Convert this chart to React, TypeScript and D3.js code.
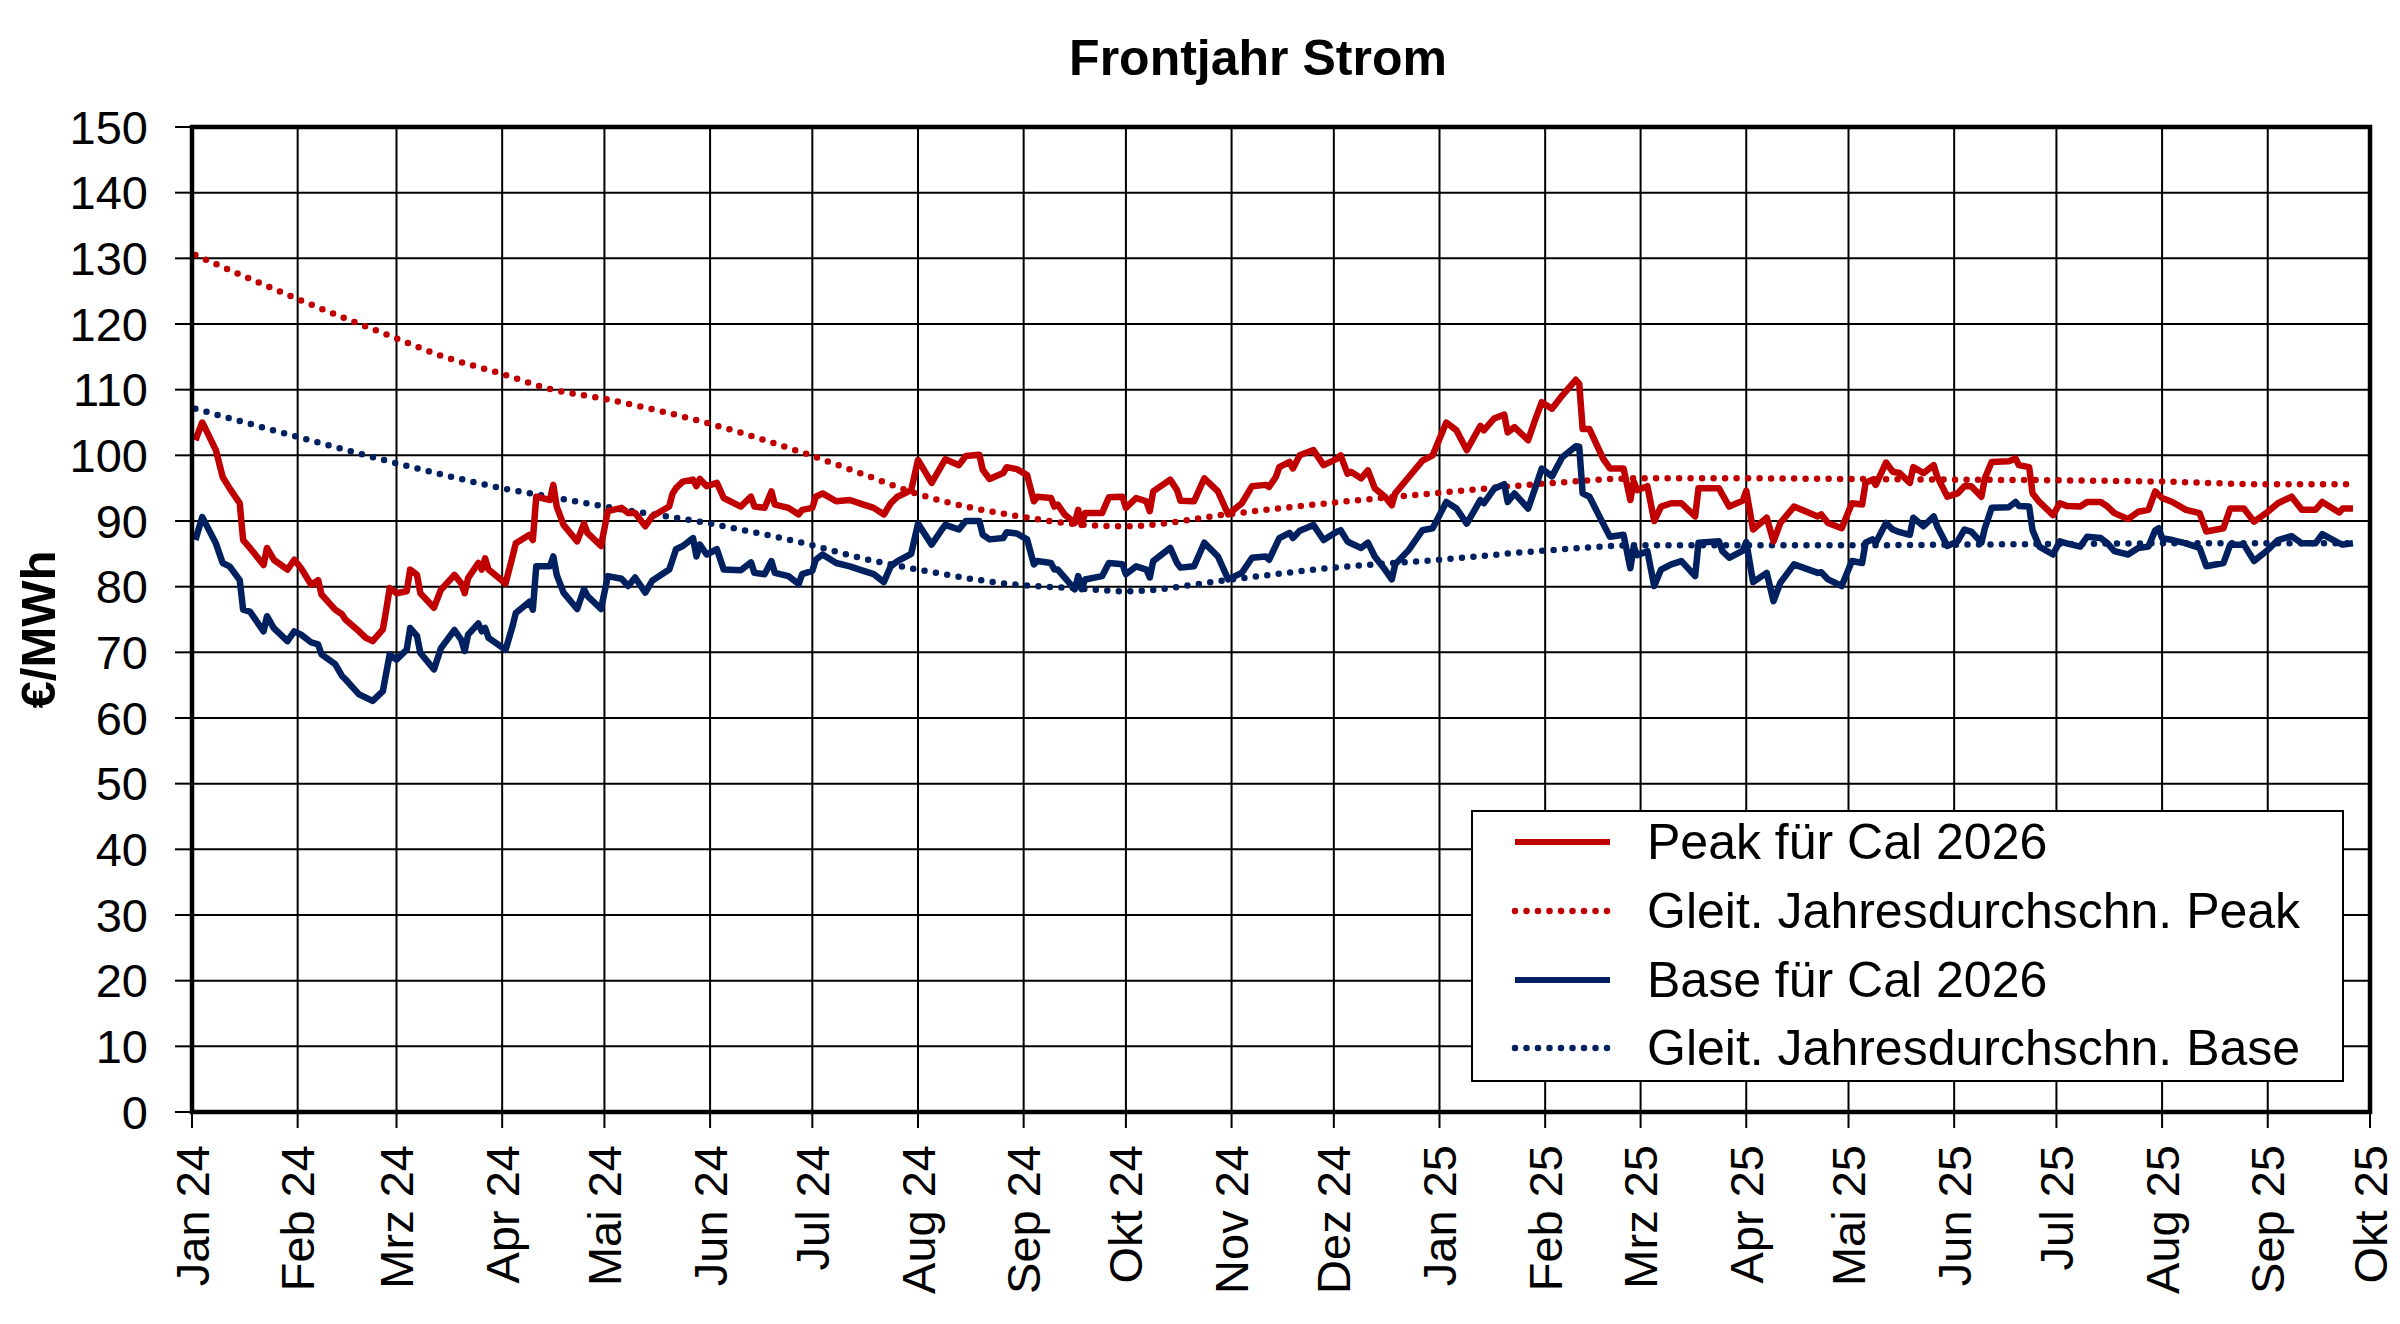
import * as d3 from "d3";

// Frontjahr Strom: Cal 2026 Peak / Base, daily settlement
const dates = [
  "2024-01-02", "2024-01-04", "2024-01-05", "2024-01-08", "2024-01-10", "2024-01-12", "2024-01-15", "2024-01-16",
  "2024-01-18", "2024-01-22", "2024-01-23", "2024-01-25", "2024-01-29", "2024-01-31", "2024-02-02", "2024-02-05",
  "2024-02-07", "2024-02-08", "2024-02-12", "2024-02-14", "2024-02-15", "2024-02-19", "2024-02-21", "2024-02-23",
  "2024-02-26", "2024-02-27", "2024-02-28", "2024-03-01", "2024-03-04", "2024-03-05", "2024-03-07", "2024-03-08",
  "2024-03-12", "2024-03-14", "2024-03-18", "2024-03-20", "2024-03-21", "2024-03-22", "2024-03-25", "2024-03-26",
  "2024-03-27", "2024-03-28", "2024-04-02", "2024-04-04", "2024-04-05", "2024-04-09", "2024-04-10", "2024-04-11",
  "2024-04-15", "2024-04-16", "2024-04-17", "2024-04-19", "2024-04-23", "2024-04-25", "2024-04-26", "2024-04-30",
  "2024-05-02", "2024-05-06", "2024-05-08", "2024-05-10", "2024-05-13", "2024-05-15", "2024-05-20", "2024-05-21",
  "2024-05-22", "2024-05-24", "2024-05-27", "2024-05-28", "2024-05-29", "2024-05-31", "2024-06-03", "2024-06-05",
  "2024-06-10", "2024-06-13", "2024-06-14", "2024-06-17", "2024-06-19", "2024-06-20", "2024-06-24", "2024-06-27",
  "2024-06-28", "2024-07-01", "2024-07-02", "2024-07-04", "2024-07-08", "2024-07-12", "2024-07-16", "2024-07-19",
  "2024-07-22", "2024-07-24", "2024-07-26", "2024-07-30", "2024-08-01", "2024-08-05", "2024-08-08", "2024-08-09",
  "2024-08-13", "2024-08-15", "2024-08-19", "2024-08-20", "2024-08-22", "2024-08-26", "2024-08-27", "2024-08-30",
  "2024-09-02", "2024-09-04", "2024-09-05", "2024-09-09", "2024-09-10", "2024-09-11", "2024-09-13", "2024-09-16",
  "2024-09-17", "2024-09-18", "2024-09-19", "2024-09-24", "2024-09-26", "2024-09-30", "2024-10-01", "2024-10-04",
  "2024-10-07", "2024-10-08", "2024-10-09", "2024-10-14", "2024-10-16", "2024-10-17", "2024-10-21", "2024-10-24",
  "2024-10-28", "2024-10-31", "2024-11-04", "2024-11-07", "2024-11-11", "2024-11-12", "2024-11-14", "2024-11-15",
  "2024-11-18", "2024-11-19", "2024-11-21", "2024-11-25", "2024-11-28", "2024-12-02", "2024-12-03", "2024-12-05",
  "2024-12-06", "2024-12-09", "2024-12-11", "2024-12-13", "2024-12-16", "2024-12-18", "2024-12-19", "2024-12-23",
  "2024-12-27", "2024-12-30", "2025-01-03", "2025-01-06", "2025-01-09", "2025-01-13", "2025-01-14", "2025-01-17",
  "2025-01-20", "2025-01-21", "2025-01-23", "2025-01-27", "2025-01-29", "2025-01-31", "2025-02-03", "2025-02-06",
  "2025-02-10", "2025-02-11", "2025-02-12", "2025-02-14", "2025-02-18", "2025-02-20", "2025-02-24", "2025-02-26",
  "2025-02-27", "2025-02-28", "2025-03-03", "2025-03-05", "2025-03-07", "2025-03-10", "2025-03-13", "2025-03-17",
  "2025-03-18", "2025-03-24", "2025-03-25", "2025-03-27", "2025-03-31", "2025-04-01", "2025-04-03", "2025-04-07",
  "2025-04-09", "2025-04-11", "2025-04-15", "2025-04-22", "2025-04-23", "2025-04-25", "2025-04-29", "2025-05-02",
  "2025-05-05", "2025-05-06", "2025-05-08", "2025-05-09", "2025-05-12", "2025-05-14", "2025-05-16", "2025-05-19",
  "2025-05-20", "2025-05-23", "2025-05-26", "2025-05-27", "2025-05-30", "2025-06-02", "2025-06-04", "2025-06-06",
  "2025-06-09", "2025-06-10", "2025-06-12", "2025-06-17", "2025-06-19", "2025-06-20", "2025-06-23", "2025-06-24",
  "2025-06-26", "2025-06-30", "2025-07-02", "2025-07-04", "2025-07-08", "2025-07-10", "2025-07-14", "2025-07-16",
  "2025-07-18", "2025-07-22", "2025-07-25", "2025-07-28", "2025-07-30", "2025-07-31", "2025-08-01", "2025-08-04",
  "2025-08-08", "2025-08-12", "2025-08-14", "2025-08-19", "2025-08-21", "2025-08-25", "2025-08-28", "2025-09-01",
  "2025-09-04", "2025-09-08", "2025-09-11", "2025-09-15", "2025-09-17", "2025-09-22", "2025-09-23", "2025-09-26",
];

const peakValues = [
  102.3, 105.0, 104.0, 100.8, 96.7, 95.0, 92.7, 87.1, 85.9, 83.3, 85.9, 84.1, 82.6, 84.1, 82.8, 80.3,
  81.0, 78.8, 76.5, 75.8, 75.0, 73.2, 72.2, 71.7, 73.5, 76.5, 79.8, 79.0, 79.3, 82.6, 81.8, 79.0,
  76.8, 79.5, 81.8, 80.5, 79.0, 81.3, 83.6, 82.6, 84.3, 82.6, 80.5, 84.5, 86.6, 87.9, 87.1, 93.7,
  93.2, 95.5, 92.2, 89.4, 86.9, 89.6, 88.2, 86.2, 91.5, 92.0, 91.2, 91.2, 89.2, 90.7, 92.2, 94.2,
  95.0, 96.0, 96.3, 95.3, 96.4, 95.3, 95.8, 93.5, 92.2, 93.7, 92.2, 92.0, 94.5, 92.5, 92.0, 91.0,
  91.7, 92.0, 93.7, 94.2, 93.0, 93.2, 92.5, 92.0, 91.0, 92.7, 93.7, 94.7, 99.3, 95.8, 98.5, 99.4,
  98.5, 99.9, 100.1, 97.8, 96.4, 97.3, 98.2, 97.9, 97.0, 93.0, 93.7, 93.5, 92.2, 92.5, 91.0, 89.7,
  91.7, 89.4, 91.2, 91.2, 93.6, 93.7, 92.0, 93.5, 93.0, 91.5, 94.5, 96.3, 94.7, 93.1, 93.0, 96.5,
  94.5, 91.0, 92.7, 95.3, 95.5, 95.2, 96.7, 98.2, 99.0, 98.0, 100.0, 100.8, 98.5, 99.5, 100.0, 97.2,
  97.5, 96.5, 97.7, 95.0, 93.7, 92.4, 94.2, 96.7, 99.2, 100.0, 105.0, 103.8, 100.8, 104.5, 103.8, 105.6,
  106.2, 103.5, 104.3, 102.3, 105.3, 108.1, 107.1, 109.1, 111.5, 110.9, 104.0, 104.0, 99.5, 98.0, 98.0, 93.2,
  96.0, 94.7, 95.3, 90.0, 92.2, 92.7, 92.7, 90.7, 95.0, 95.0, 94.0, 92.2, 93.1, 94.6, 88.7, 90.5,
  86.9, 89.7, 92.2, 90.7, 91.0, 89.7, 88.9, 92.7, 92.5, 95.8, 96.3, 95.5, 98.9, 97.5, 97.3, 95.8,
  98.2, 97.3, 98.5, 96.8, 93.7, 94.2, 95.3, 95.3, 93.7, 96.5, 99.0, 99.1, 99.5, 98.5, 98.2, 94.2,
  92.9, 90.9, 92.7, 92.3, 92.2, 92.9, 92.9, 92.2, 91.2, 90.3, 91.4, 91.7, 94.5, 94.0, 93.5, 92.9,
  91.7, 91.2, 88.4, 88.9, 91.9, 91.9, 89.9, 91.4, 92.7, 93.7, 91.7, 91.7, 92.9, 91.3, 91.9, 91.9,
];

const baseValues = [
  87.1, 90.6, 89.6, 86.6, 83.6, 83.1, 81.0, 76.5, 76.2, 73.2, 75.5, 73.7, 71.7, 73.2, 72.7, 71.5,
  71.2, 69.7, 68.2, 66.4, 65.9, 63.6, 63.1, 62.6, 64.1, 66.9, 69.7, 68.9, 70.4, 73.7, 72.5, 69.9,
  67.4, 70.6, 73.4, 71.9, 70.2, 72.7, 74.4, 73.2, 73.7, 72.2, 70.4, 73.9, 76.0, 77.7, 76.5, 83.1,
  83.1, 84.6, 81.8, 79.1, 76.6, 79.6, 78.6, 76.6, 81.6, 81.2, 80.1, 81.4, 79.1, 80.9, 82.6, 84.1,
  85.7, 86.2, 87.4, 84.6, 86.4, 84.9, 85.7, 82.6, 82.5, 83.7, 82.1, 81.9, 83.9, 82.1, 81.6, 80.4,
  81.9, 82.4, 84.1, 84.9, 83.6, 83.1, 82.4, 81.9, 80.7, 83.1, 83.9, 85.0, 89.6, 86.4, 88.7, 89.4,
  88.7, 90.0, 90.0, 87.9, 87.2, 87.4, 88.3, 88.1, 87.2, 83.4, 83.9, 83.6, 82.6, 82.6, 81.4, 79.6,
  81.6, 79.6, 81.1, 81.6, 83.6, 83.4, 81.9, 83.1, 82.6, 81.4, 83.9, 85.9, 83.6, 82.9, 83.1, 86.7,
  84.6, 81.1, 82.1, 84.4, 84.6, 84.1, 86.3, 87.4, 88.2, 87.4, 88.5, 89.4, 87.1, 88.4, 88.6, 86.9,
  86.6, 85.9, 86.7, 84.6, 82.6, 81.1, 83.4, 85.6, 88.6, 88.9, 92.9, 91.9, 89.6, 93.2, 92.7, 94.9,
  95.6, 92.9, 94.2, 91.9, 94.9, 98.0, 96.8, 99.7, 101.4, 101.3, 94.2, 93.7, 89.6, 87.6, 87.9, 82.8,
  86.1, 84.8, 85.4, 80.1, 82.6, 83.4, 83.9, 81.6, 86.7, 86.9, 85.4, 84.4, 85.5, 86.8, 80.7, 82.1,
  77.8, 80.6, 83.4, 82.1, 82.2, 81.1, 80.1, 83.9, 83.6, 86.7, 87.2, 86.7, 89.7, 88.7, 88.3, 87.9,
  90.5, 89.2, 90.7, 89.2, 86.2, 86.9, 88.7, 88.4, 86.7, 88.9, 92.0, 92.1, 92.9, 92.3, 92.2, 88.6,
  86.1, 84.9, 86.9, 86.6, 86.1, 87.6, 87.4, 86.6, 85.4, 84.9, 85.9, 86.1, 88.6, 88.9, 87.4, 87.1,
  86.6, 85.9, 83.1, 83.6, 86.4, 86.4, 83.9, 85.6, 87.1, 87.7, 86.6, 86.6, 88.0, 86.6, 86.4, 86.6,
];

// gleitender Jahresdurchschnitt (read at roughly monthly steps)
const avgDates = [
  "2024-01-02", "2024-02-01", "2024-03-01", "2024-03-15", "2024-04-01", "2024-04-15", "2024-05-01",
  "2024-06-01", "2024-07-01", "2024-07-15", "2024-08-01", "2024-09-01", "2024-09-15", "2024-10-01",
  "2024-11-01", "2024-12-01", "2025-01-01", "2025-02-01", "2025-03-01", "2025-04-01", "2025-05-01",
  "2025-06-01", "2025-07-01", "2025-08-01", "2025-09-01", "2025-09-26",
];
const peakAvg = [
  130.5, 123.8, 117.8, 115.0, 112.4, 110.1, 108.6, 104.8, 99.9, 97.3, 94.1, 90.6, 89.6, 89.2,
  91.1, 92.8, 94.3, 95.7, 96.5, 96.5, 96.4, 96.3, 96.2, 96.0, 95.6, 95.6,
];
const baseAvg = [
  107.1, 102.8, 98.8, 97.0, 95.0, 93.7, 92.2, 89.6, 86.3, 84.4, 82.6, 80.2, 79.8, 79.3,
  81.1, 82.9, 84.1, 85.5, 86.3, 86.3, 86.3, 86.4, 86.5, 86.6, 86.6, 86.6,
];

const monthNames = ["Jan", "Feb", "Mrz", "Apr", "Mai", "Jun", "Jul", "Aug", "Sep", "Okt", "Nov", "Dez"];
const yTicks = d3.range(0, 151, 10);

const legendItems = [
  { label: "Peak für Cal 2026", color: "#C00000", dotted: false },
  { label: "Gleit. Jahresdurchschn. Peak", color: "#C00000", dotted: true },
  { label: "Base für Cal 2026", color: "#002060", dotted: false },
  { label: "Gleit. Jahresdurchschn. Base", color: "#002060", dotted: true },
];

const W = 2400;
const H = 1324;
const left = 192;
const right = 2370;
const top = 127;
const bottom = 1112;
const FONT = "'Liberation Sans', Arial, sans-serif";

export default function App() {
  const parse = d3.utcParse("%Y-%m-%d");
  const start = new Date(Date.UTC(2024, 0, 1));
  const end = new Date(Date.UTC(2025, 9, 1));

  const x = d3.scaleUtc().domain([start, end]).range([left, right]);
  const y = d3.scaleLinear().domain([0, 150]).range([bottom, top]);

  const months = d3.utcMonth.range(start, d3.utcDay.offset(end, 1));

  const days = dates.map((d) => parse(d) as Date);
  const avgDays = avgDates.map((d) => parse(d) as Date);

  const line = d3
    .line<number>()
    .x((_, i) => x(days[i]))
    .y((v) => y(v));

  const avgLine = d3
    .line<number>()
    .x((_, i) => x(avgDays[i]))
    .y((v) => y(v))
    .curve(d3.curveMonotoneX);

  const legend = { x: 1472, y: 811, w: 871, h: 270 };
  const rowY = [842, 911, 980, 1048];

  return (
    <div style={{ position: "absolute", left: 0, top: 0 }}>
      <svg width={W} height={H} viewBox={`0 0 ${W} ${H}`} style={{ display: "block", background: "#fff" }}>
        <rect x={0} y={0} width={W} height={H} fill="#fff" />

        <text x={1258} y={58} textAnchor="middle" dominantBaseline="central" fontFamily={FONT} fontWeight="bold" fontSize={50}>
          Frontjahr Strom
        </text>

        {/* grid */}
        {yTicks.map((t) => (
          <line key={"h" + t} x1={left} x2={right} y1={y(t)} y2={y(t)} stroke="#000" strokeWidth={2} />
        ))}
        {months.map((m) => (
          <line key={"v" + m.getTime()} x1={x(m)} x2={x(m)} y1={top} y2={bottom} stroke="#000" strokeWidth={2} />
        ))}

        {/* y axis ticks + labels */}
        {yTicks.map((t) => (
          <g key={"yt" + t}>
            <line x1={left - 17} x2={left} y1={y(t)} y2={y(t)} stroke="#000" strokeWidth={2} />
            <text x={148} y={y(t)} textAnchor="end" dominantBaseline="central" fontFamily={FONT} fontSize={47}>
              {t}
            </text>
          </g>
        ))}

        {/* x axis ticks + labels */}
        {months.map((m) => (
          <g key={"xt" + m.getTime()}>
            <line x1={x(m)} x2={x(m)} y1={bottom} y2={bottom + 16} stroke="#000" strokeWidth={2} />
            <text
              transform={`translate(${x(m)},${bottom + 33}) rotate(-90)`}
              textAnchor="end"
              dominantBaseline="central"
              fontFamily={FONT}
              fontSize={47}
            >
              {`${monthNames[m.getUTCMonth()]} ${String(m.getUTCFullYear()).slice(2)}`}
            </text>
          </g>
        ))}

        <text
          transform={`translate(38,${(top + bottom) / 2 + 10}) rotate(-90)`}
          textAnchor="middle"
          dominantBaseline="central"
          fontFamily={FONT}
          fontWeight="bold"
          fontSize={49}
        >
          €/MWh
        </text>

        {/* series */}
        <path d={avgLine(peakAvg) ?? ""} fill="none" stroke="#C00000" strokeWidth={6.5} strokeDasharray="0 11.5" strokeLinecap="round" />
        <path d={avgLine(baseAvg) ?? ""} fill="none" stroke="#002060" strokeWidth={6.5} strokeDasharray="0 11.5" strokeLinecap="round" />
        <path d={line(peakValues) ?? ""} fill="none" stroke="#C00000" strokeWidth={6.5} strokeLinejoin="round" />
        <path d={line(baseValues) ?? ""} fill="none" stroke="#002060" strokeWidth={6.5} strokeLinejoin="round" />

        {/* legend */}
        <rect x={legend.x} y={legend.y} width={legend.w} height={legend.h} fill="#fff" stroke="#000" strokeWidth={2} />
        {legendItems.map((it, i) => (
          <g key={it.label}>
            <line
              x1={1515}
              x2={1610}
              y1={rowY[i]}
              y2={rowY[i]}
              stroke={it.color}
              strokeWidth={it.dotted ? 6.5 : 6}
              strokeDasharray={it.dotted ? "0 11.5" : undefined}
              strokeLinecap={it.dotted ? "round" : "butt"}
            />
            <text x={1647} y={rowY[i]} dominantBaseline="central" fontFamily={FONT} fontSize={50}>
              {it.label}
            </text>
          </g>
        ))}

        {/* plot frame */}
        <rect x={left} y={top} width={right - left} height={bottom - top} fill="none" stroke="#000" strokeWidth={4.5} />
      </svg>
    </div>
  );
}
